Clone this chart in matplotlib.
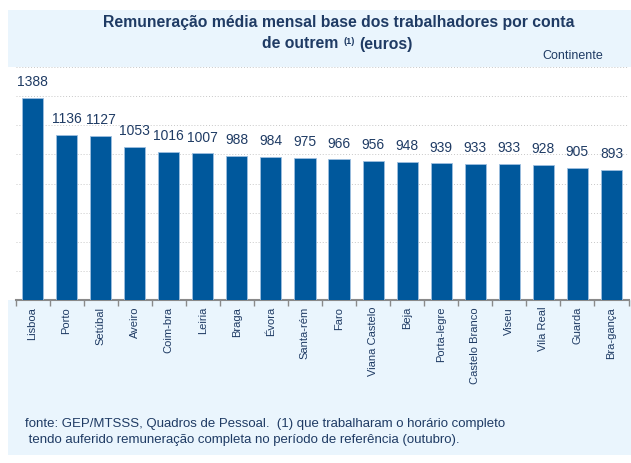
import matplotlib.pyplot as plt
from matplotlib.patches import Rectangle
import numpy as np

plt.rcParams['font.family'] = ['Liberation Sans', 'DejaVu Sans']

distritos = ['Lisboa', 'Porto', 'Setúbal', 'Aveiro', 'Coim-bra', 'Leiria', 'Braga',
             'Évora', 'Santa-rém', 'Faro', 'Viana Castelo', 'Beja', 'Porta-legre',
             'Castelo Branco', 'Viseu', 'Vila Real', 'Guarda', 'Bra-gança']
valores = [1388, 1136, 1127, 1053, 1016, 1007, 988, 984, 975, 966, 956, 948,
           939, 933, 933, 928, 905, 893]

W, H = 631, 463
navy = '#1F3B64'
barcol = '#00589C'

fig = plt.figure(figsize=(W / 100, H / 100), dpi=100)
fig.patch.set_facecolor('white')

def px(x0, y0, x1, y1):
    # pixel box (top-left origin) -> figure fraction
    return (x0 / W, 1 - y1 / H, (x1 - x0) / W, (y1 - y0) / H)

bx = px(8, 10, 631, 455)
fig.patches.append(Rectangle(bx[:2], bx[2], bx[3], transform=fig.transFigure,
                             facecolor='#EAF5FD', edgecolor='none', zorder=-2))
wx = px(8, 67, 631, 300)
fig.patches.append(Rectangle(wx[:2], wx[2], wx[3], transform=fig.transFigure,
                             facecolor='white', edgecolor='none', zorder=-1))

ax = fig.add_axes(px(15.5, 67, 628.5, 300))
ax.set_zorder(1)
ax.set_facecolor('white')
x = np.arange(len(distritos))
ax.bar(x, valores, width=0.62, color=barcol, edgecolor='#9DBFE0', linewidth=0.6, zorder=3)
for xi, v in zip(x, valores):
    ax.text(xi, v + 60, str(v), ha='center', va='bottom', fontsize=10, color=navy)

ax.set_xlim(-0.5, len(distritos) - 0.5)
ax.set_ylim(0, 1600)
ax.set_yticks(np.arange(200, 1601, 200))
ax.yaxis.grid(True, linestyle=(0, (1, 2)), color='#C8C8C8', linewidth=0.7, zorder=0)
ax.tick_params(axis='y', left=False, labelleft=False)
for s in ['top', 'right', 'left']:
    ax.spines[s].set_visible(False)
ax.spines['bottom'].set_color('#8A8A8A')
ax.spines['bottom'].set_linewidth(1.5)

ax.set_xticks(x)
ax.set_xticklabels(distritos, rotation=90, fontsize=8, color=navy)
ax.tick_params(axis='x', which='major', length=0, pad=5)
ax.set_xticks(np.arange(-0.5, len(distritos), 1), minor=True)
ax.tick_params(axis='x', which='minor', length=4, color='#8A8A8A', width=1)

fig.text(339 / W, 1 - 23 / H, 'Remuneração média mensal base dos trabalhadores por conta',
         ha='center', va='center', fontsize=11.3, fontweight='bold', color=navy)
fig.text(338 / W, 1 - 44 / H, 'de outrem', ha='right', va='center',
         fontsize=11.3, fontweight='bold', color=navy)
fig.text(343 / W, 1 - 41 / H, '(1)', ha='left', va='center',
         fontsize=6.5, fontweight='bold', color=navy)
fig.text(413 / W, 1 - 44 / H, '(euros)', ha='right', va='center',
         fontsize=11.3, fontweight='bold', color=navy)
fig.text(603 / W, 1 - 56 / H, 'Continente', ha='right', va='center', fontsize=9, color=navy)

fig.text(25 / W, 1 - 424 / H, 'fonte: GEP/MTSSS, Quadros de Pessoal.  (1) que trabalharam o horário completo',
         ha='left', va='center', fontsize=9.5, color=navy)
fig.text(25 / W, 1 - 440 / H, ' tendo auferido remuneração completa no período de referência (outubro).',
         ha='left', va='center', fontsize=9.5, color=navy)

fig.savefig('out.png', dpi=100, facecolor=fig.get_facecolor())
